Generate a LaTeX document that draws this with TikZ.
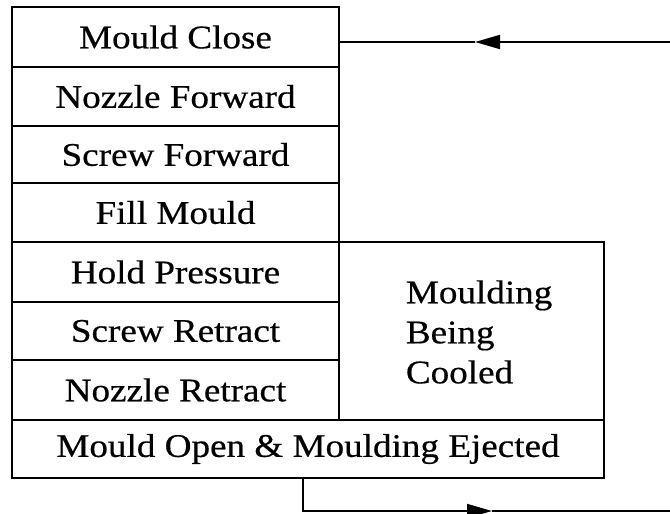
\documentclass[tikz,border=0pt]{standalone}
\usepackage{fontspec}
\setmainfont[FakeStretch=1.125,FakeBold=0.5]{Liberation Serif}
\usetikzlibrary{arrows.meta}
\begin{document}
\begin{tikzpicture}[x=1pt,y=-1pt,
  line width=1.8pt,
  stepbox/.style={draw, rectangle, minimum width=327pt, inner sep=0pt, anchor=center, font=\fontsize{33}{40}\selectfont},
  arrowtip/.style={-{Triangle[length=25pt,width=14pt]}}]
\useasboundingbox (0,0) rectangle (670,514);
\node[stepbox, minimum height=60pt] (s1) at (175.5,37) {Mould Close};
\node[stepbox, minimum height=59pt] (s2) at (175.5,96.5) {Nozzle Forward};
\node[stepbox, minimum height=57pt] (s3) at (175.5,154.5) {Screw Forward};
\node[stepbox, minimum height=59pt] (s4) at (175.5,212.5) {Fill Mould};
\node[stepbox, minimum height=60pt] (s5) at (175.5,272) {Hold Pressure};
\node[stepbox, minimum height=58pt] (s6) at (175.5,331) {Screw Retract};
\node[stepbox, minimum height=60pt] (s7) at (175.5,390) {Nozzle Retract};
\node[stepbox, minimum width=592pt, minimum height=58pt] (s8) at (308,449) {Mould Open \& Moulding Ejected};
\node[draw, rectangle, minimum width=265pt, minimum height=178pt, inner sep=0pt] (cool) at (471.5,331) {};
\node[anchor=west, align=left, inner sep=0pt, font=\fontsize{33}{40}\selectfont] (cooltext) at (405,332) {Moulding\\Being\\Cooled};
% top return line
\coordinate (topR) at (672,42);
\coordinate (topM) at (475,42);
\draw[arrowtip] (topR) -- (topM);
\draw (topM) -- (s1.east |- topM);
% bottom line
\coordinate (botL) at (303,511);
\coordinate (botM) at (492,511);
\coordinate (botR) at (672,511);
\draw[arrowtip] (s8.south -| botL) -- (botL) -- (botM);
\draw (botM) -- (botR);
\end{tikzpicture}
\end{document}
